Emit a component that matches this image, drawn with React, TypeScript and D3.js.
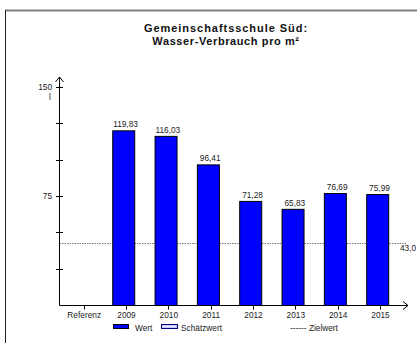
import React from "react";
import * as d3 from "d3";

const categories = ["Referenz", "2009", "2010", "2011", "2012", "2013", "2014", "2015"];
const values: (number | null)[] = [null, 119.83, 116.03, 96.41, 71.28, 65.83, 76.69, 75.99];
const targetValue = 43.0;
const yTicks = [25, 50, 75, 100, 125, 150];
const yLabels = [75, 150];
const titleLines = ["Gemeinschaftsschule Süd:", "Wasser-Verbrauch pro m²"];

const W = 417;
const H = 343;
const FONT = "'Liberation Sans', Arial, sans-serif";
const fmt = (v: number, d: number) => v.toFixed(d).replace(".", ",");

export default function App() {
  const y = d3.scaleLinear().domain([0, 150]).range([305, 87]);
  const x = d3.scalePoint<string>().domain(categories).range([83.7, 380]);
  const axisX = 59.5;
  const baseY = y(0) + 0.5;
  const barW = 23;
  const barShift = -2.3;
  const textColor = "#222";
  const fs = 8.3;

  return (
    <svg
      width={W}
      height={H}
      style={{ position: "absolute", left: 0, top: 0, background: "#fff" }}
      fontFamily={FONT}
    >
      {/* frame */}
      <line x1={5} x2={W} y1={10.5} y2={10.5} stroke="#808080" strokeWidth={2} />
      <line x1={5.5} x2={5.5} y1={10} y2={H} stroke="#222" strokeWidth={1} />

      {/* title */}
      {titleLines.map((t, i) => (
        <text
          key={t}
          x={226}
          y={32 + i * 13}
          textAnchor="middle"
          fontSize={11}
          fontWeight="bold"
          letterSpacing={i === 0 ? 0.95 : 0.6}
          fill="#111"
        >
          {t}
        </text>
      ))}

      {/* target line */}
      <line
        x1={axisX}
        x2={406}
        y1={Math.round(y(targetValue)) + 0.5}
        y2={Math.round(y(targetValue)) + 0.5}
        stroke="#555"
        strokeWidth={0.8}
        strokeDasharray="1.5,1"
      />
      <text x={400} y={y(targetValue) + 8} fontSize={fs} fill={textColor}>
        {fmt(targetValue, 1)}
      </text>

      {/* bars */}
      {categories.map((c, i) => {
        const v = values[i];
        if (v == null) return null;
        const cx = (x(c) as number) + barShift;
        return (
          <g key={c}>
            <rect
              x={cx - barW / 2 + 0.5}
              y={y(v)}
              width={barW - 1}
              height={baseY - y(v)}
              fill="#0000ff"
              stroke="#000"
              strokeWidth={1}
            />
            <text
              x={(x(c) as number) - 0.5}
              y={y(v) - 3.5}
              textAnchor="middle"
              fontSize={fs}
              fill={textColor}
            >
              {fmt(v, 2)}
            </text>
          </g>
        );
      })}

      {/* y axis */}
      <line x1={axisX} x2={axisX} y1={77} y2={baseY} stroke="#000" strokeWidth={1} />
      <polyline
        points={`${axisX - 4},82 ${axisX},77 ${axisX + 4},82`}
        fill="none"
        stroke="#000"
        strokeWidth={1}
      />
      {yTicks.map((t) => (
        <line
          key={t}
          x1={axisX - 3.5}
          x2={axisX + 3.5}
          y1={Math.round(y(t)) + 0.5}
          y2={Math.round(y(t)) + 0.5}
          stroke="#000"
          strokeWidth={1}
        />
      ))}
      {yLabels.map((t) => (
        <text key={t} x={52} y={y(t) + 3} textAnchor="end" fontSize={fs} fill={textColor}>
          {t}
        </text>
      ))}
      <text x={50} y={100} textAnchor="middle" fontSize={fs} fill={textColor}>
        l
      </text>

      {/* x axis */}
      <line x1={axisX} x2={408} y1={baseY} y2={baseY} stroke="#000" strokeWidth={1} />
      <polyline
        points={`${403},${baseY - 4} ${408},${baseY} ${403},${baseY + 4}`}
        fill="none"
        stroke="#000"
        strokeWidth={1}
      />
      {categories.map((c) => (
        <g key={c}>
          <line
            x1={Math.round(x(c) as number) + 0.5}
            x2={Math.round(x(c) as number) + 0.5}
            y1={baseY}
            y2={baseY + 4}
            stroke="#000"
            strokeWidth={1}
          />
          <text x={(x(c) as number) + 0.5} y={317.5} textAnchor="middle" fontSize={fs} fill={textColor}>
            {c}
          </text>
        </g>
      ))}

      {/* legend */}
      <rect x={113.5} y={324.5} width={15} height={4} fill="#0000ff" stroke="#000" strokeWidth={1} />
      <text x={135} y={331} fontSize={fs} fill={textColor}>
        Wert
      </text>
      <rect x={161.5} y={324.5} width={16} height={4} fill="#c8c8ff" stroke="#000080" strokeWidth={1} />
      <line x1={163} x2={176} y1={326.5} y2={326.5} stroke="#fff" strokeWidth={1} strokeDasharray="2,1" />
      <text x={181} y={331} fontSize={fs} fill={textColor}>
        Schätzwert
      </text>
      <text x={290} y={331} fontSize={fs} fill={textColor}>
        ------ Zielwert
      </text>
    </svg>
  );
}
